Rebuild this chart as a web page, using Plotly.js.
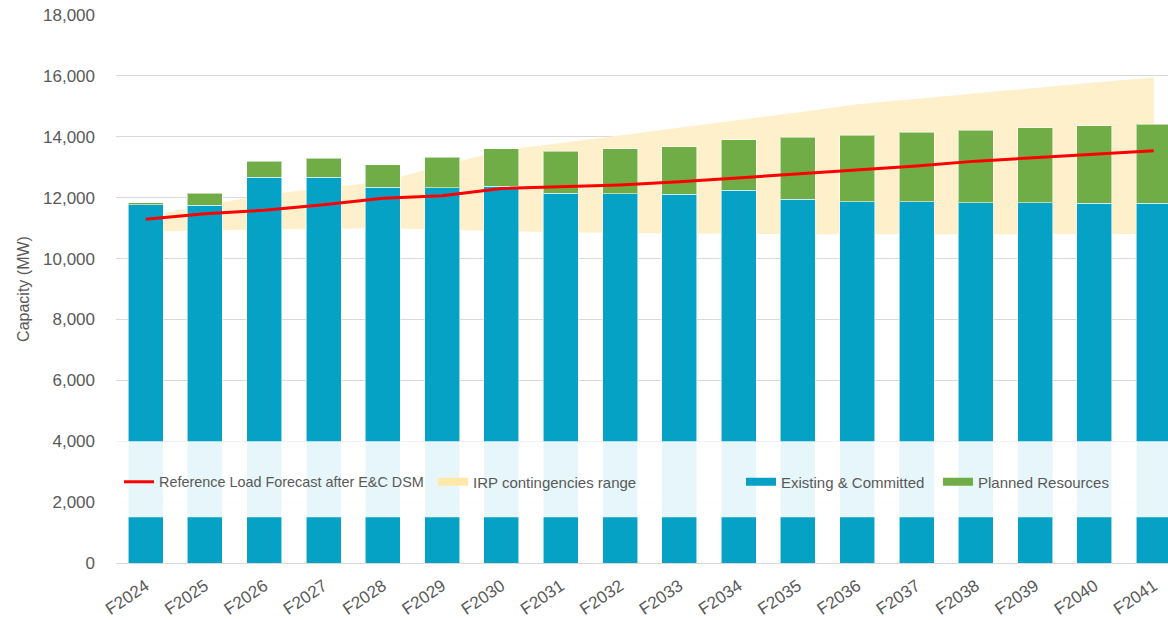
<!DOCTYPE html>
<html>
<head>
<meta charset="utf-8">
<script src="https://cdn.plot.ly/plotly-3.0.1.min.js"></script>
<style>html,body{margin:0;padding:0;background:#fff;overflow:hidden}</style>
</head>
<body>
<div id="chart" style="width:1168px;height:620px"></div>
<script>
const categories = ['F2024','F2025','F2026','F2027','F2028','F2029','F2030','F2031','F2032','F2033','F2034','F2035','F2036','F2037','F2038','F2039','F2040','F2041'];
const existingCommitted = [11770,11750,12670,12670,12350,12330,12380,12140,12130,12110,12240,11955,11870,11870,11835,11835,11815,11815];
const plannedResources = [63,391,522,621,731,993,1226,1390,1476,1562,1662,2025,2186,2274,2385,2462,2548,2602];
const loadForecast = [11290,11470,11590,11770,11980,12060,12300,12360,12420,12520,12650,12780,12910,13040,13200,13320,13440,13540];
const irpLow = [10880,10926,10959,10979,10992,10950,10900,10860,10840,10820,10800,10795,10795,10795,10800,10800,10800,10805];
const irpHigh = [11400,11760,12095,12315,12535,13054,13553,13793,14039,14290,14532,14800,15065,15250,15435,15610,15785,15951];
const yTicks = [0,2000,4000,6000,8000,10000,12000,14000,16000,18000];

const txt = '#595959';
const fam = 'Liberation Sans, Arial, sans-serif';
const blue = '#06A2C6', green = '#70AD47', yellow = '#FFF0CC', yellowLegend = '#FFE8A8', red = '#FF0000';

const traces = [
  {x: categories, y: irpLow, xaxis:'x', yaxis:'y', type:'scatter', mode:'lines', line:{width:0, color:yellow}, showlegend:false, hoverinfo:'skip'},
  {x: categories, y: irpHigh, xaxis:'x', yaxis:'y', type:'scatter', mode:'lines', fill:'tonexty', fillcolor:yellow, line:{width:0, color:yellow}, showlegend:false, name:'IRP contingencies range'},
  {x: categories, y: existingCommitted, xaxis:'x2', yaxis:'y2', type:'bar', name:'Existing & Committed', marker:{color:blue, line:{width:1, color:'rgba(255,255,255,0.55)'}}, showlegend:false},
  {x: categories, y: plannedResources, xaxis:'x2', yaxis:'y2', type:'bar', name:'Planned Resources', marker:{color:green, line:{width:1, color:'rgba(255,255,255,0.55)'}}, showlegend:false},
  {x: categories, y: loadForecast, xaxis:'x2', yaxis:'y2', type:'scatter', mode:'lines', name:'Reference Load Forecast after E&C DSM', line:{color:red, width:3}, legend:'legend'},
  {x:[null], y:[null], xaxis:'x2', yaxis:'y2', type:'scatter', mode:'lines', name:'IRP contingencies range', line:{color:yellowLegend, width:8}, legend:'legend2', hoverinfo:'skip'},
  {x:[null], y:[null], xaxis:'x2', yaxis:'y2', type:'scatter', mode:'lines', name:'Existing & Committed', line:{color:blue, width:8}, legend:'legend3', hoverinfo:'skip'},
  {x:[null], y:[null], xaxis:'x2', yaxis:'y2', type:'scatter', mode:'lines', name:'Planned Resources', line:{color:green, width:8}, legend:'legend4', hoverinfo:'skip'}
];

const xr = [-0.5, 17.24];
const legendBase = {orientation:'h', yanchor:'middle', xanchor:'left', y:0.148, bgcolor:'rgba(0,0,0,0)', borderwidth:0, font:{family:fam, size:15, color:txt}};
const layout = {
  width:1168, height:620,
  margin:{l:116, r:0, t:15, b:57},
  paper_bgcolor:'#fff', plot_bgcolor:'#fff',
  font:{family:fam, color:txt},
  barmode:'stack', bargap:0.41,
  xaxis:{type:'category', categoryorder:'array', categoryarray:categories, range:xr, showgrid:false, zeroline:false, showline:false, ticks:'', tickangle:-34, tickfont:{family:fam, size:17, color:txt}, ticklabelstandoff:9},
  xaxis2:{type:'category', categoryorder:'array', categoryarray:categories, range:xr, overlaying:'x', visible:false},
  yaxis:{range:[0,18000], tickvals:yTicks, tickformat:',d', showgrid:true, gridcolor:'#D9D9D9', gridwidth:1, zeroline:true, zerolinecolor:'#D9D9D9', zerolinewidth:1, ticks:'', tickfont:{family:fam, size:17, color:txt}, ticklabelstandoff:20,
    title:{text:'Capacity (MW)', font:{family:fam, size:16, color:txt}, standoff:9}},
  yaxis2:{range:[0,18000], overlaying:'y', visible:false},
  legend:Object.assign({}, legendBase, {x:(119-116)/1052, font:{family:fam, size:14.4, color:txt}}),
  legend2:Object.assign({}, legendBase, {x:(433-116)/1052}),
  legend3:Object.assign({}, legendBase, {x:(741-116)/1052}),
  legend4:Object.assign({}, legendBase, {x:(938-116)/1052}),
  shapes:[{type:'rect', xref:'paper', yref:'y', x0:-0.003, x1:1, y0:1500, y1:4000, fillcolor:'rgba(255,255,255,0.9)', line:{width:0}, layer:'above'}],
  showlegend:true
};
Plotly.newPlot('chart', traces, layout, {displayModeBar:false, staticPlot:true});
</script>
</body>
</html>
